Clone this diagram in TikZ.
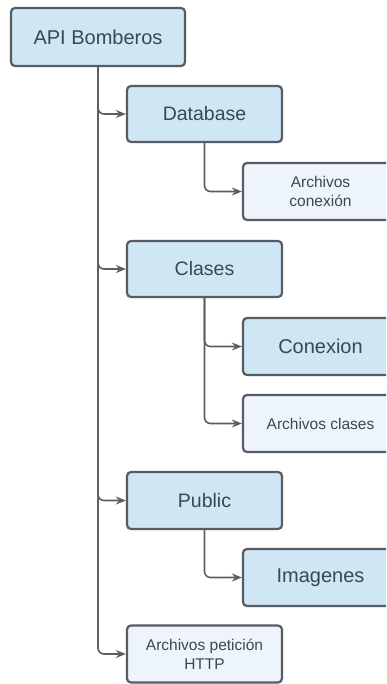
\documentclass[tikz,border=0pt]{standalone}
\usepackage{fontspec}
\setmainfont{Liberation Sans}
\usetikzlibrary{arrows.meta}
\definecolor{boxline}{HTML}{575C62}
\definecolor{boxfill}{HTML}{CFE6F5}
\definecolor{leaffill}{HTML}{EDF4FB}
\definecolor{txt}{HTML}{3A4755}
\definecolor{wire}{HTML}{5E5E5E}
\tikzset{
  box/.style={draw=boxline, line width=2.2pt, rounded corners=4pt, fill=boxfill,
    text=txt, align=center, inner sep=2pt},
  leaf/.style={box, fill=leaffill, font=\fontsize{15.5}{19}\selectfont},
  conn/.style={draw=wire, line width=1.6pt, rounded corners=6pt,
    -{Stealth[length=10pt,width=8pt]}}
}
\begin{document}
\begin{tikzpicture}[x=1pt,y=-1pt]
\useasboundingbox (0,0) rectangle (386,684);
\clip (0,0) rectangle (386,684);
\fill[white] (0,0) rectangle (386,684);
% top-level folder
\node[box, minimum width=174pt, minimum height=58pt, font=\fontsize{20}{24}\selectfont]
  (api) at (98,37) {API Bomberos};
% second level
\node[box, minimum width=155pt, minimum height=56pt, font=\fontsize{19.5}{23}\selectfont]
  (db) at (204.5,114) {Database};
\node[box, minimum width=155pt, minimum height=56pt, font=\fontsize{19.5}{23}\selectfont]
  (clases) at (204.5,269) {Clases};
\node[box, minimum width=155pt, minimum height=57pt, font=\fontsize{19.5}{23}\selectfont]
  (public) at (204.5,500.5) {Public};
\node[leaf, minimum width=155pt, minimum height=57pt]
  (http) at (204.5,654) {Archivos petición\\HTTP};
% third level
\node[leaf, minimum width=155pt, minimum height=57pt]
  (archcon) at (320.5,191.5) {Archivos\\conexión};
\node[box, minimum width=155pt, minimum height=57pt, font=\fontsize{20}{24}\selectfont]
  (conexion) at (320.5,346.5) {Conexion};
\node[leaf, minimum width=155pt, minimum height=57pt]
  (archcl) at (320.5,423.5) {Archivos clases};
\node[box, minimum width=155pt, minimum height=57pt, font=\fontsize{20}{24}\selectfont]
  (imagenes) at (320.5,577.5) {Imagenes};
% connectors
\draw[conn] (api.south) |- (db.west);
\draw[conn] (api.south) |- (clases.west);
\draw[conn] (api.south) |- (public.west);
\draw[conn] (api.south) |- (http.west);
\draw[conn] (db.south) |- (archcon.west);
\draw[conn] (clases.south) |- (conexion.west);
\draw[conn] (clases.south) |- (archcl.west);
\draw[conn] (public.south) |- (imagenes.west);
\end{tikzpicture}
\end{document}
